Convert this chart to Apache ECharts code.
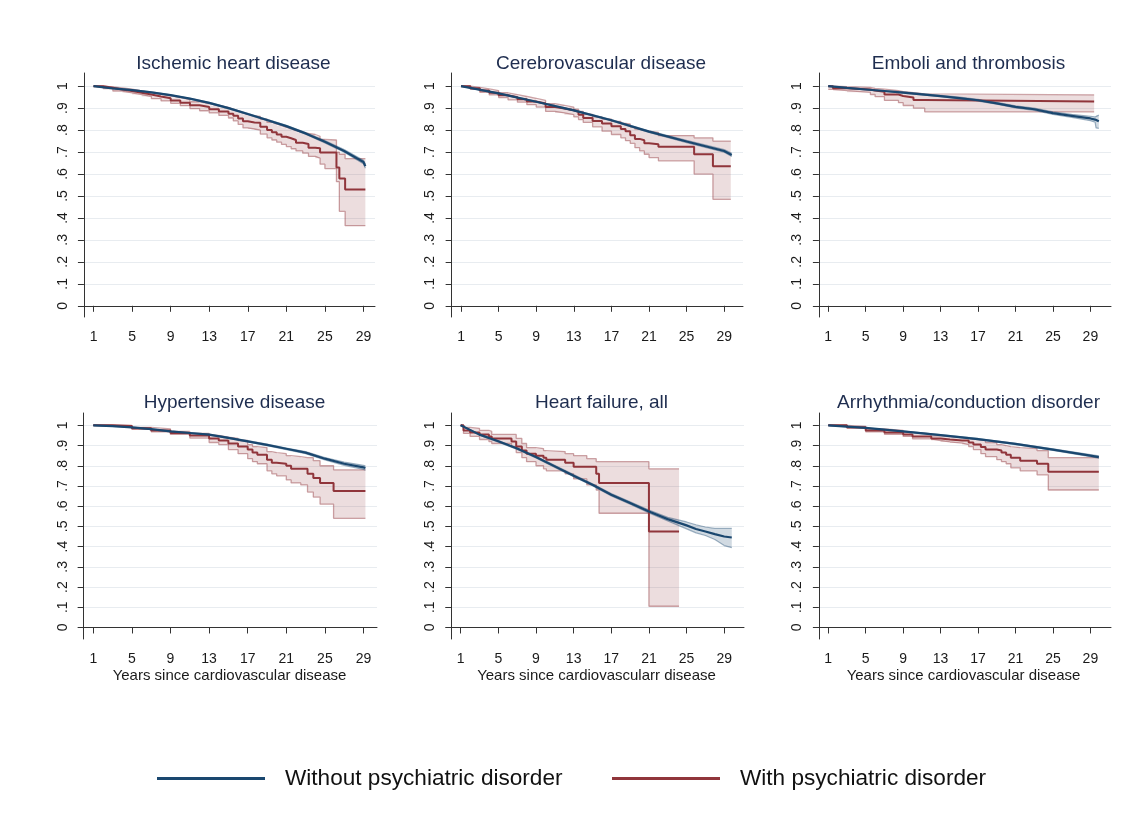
<!DOCTYPE html>
<html>
<head>
<meta charset="utf-8">
<script src="https://cdn.jsdelivr.net/npm/echarts@6/dist/echarts.min.js"></script>
<style>
html,body{margin:0;padding:0;background:#fff;}
#c{width:1135px;height:833px;}
</style>
</head>
<body>
<div id="c"></div>
<script>
// ---------- tick labels ----------
const xTicks = [1, 5, 9, 13, 17, 21, 25, 29];
const yTicks = [0, 0.1, 0.2, 0.3, 0.4, 0.5, 0.6, 0.7, 0.8, 0.9, 1];
const yTickLabels = ['0', '.1', '.2', '.3', '.4', '.5', '.6', '.7', '.8', '.9', '1'];
const titles = ['Ischemic heart disease', 'Cerebrovascular disease', 'Emboli and thrombosis',
  'Hypertensive disease', 'Heart failure, all', 'Arrhythmia/conduction disorder'];
const xTitles = ['', '', '', 'Years since cardiovascular disease', 'Years since cardiovascularr disease', 'Years since cardiovascular disease'];
const seriesNames = ['Without psychiatric disorder', 'With psychiatric disorder'];

// ---------- Panel 1: Ischemic heart disease ----------
const ihdRedX  = [1,2,3,4,5,6,7,8,9,10,11,12,13,14,15,15.5,16,16.5,17,17.7,18.3,19,19.5,20,20.5,21,21.5,22,22.7,23.3,24,24.5,25,26.2,26.5,27.1,29.2];
const ihdRed   = [1,.993,.985,.978,.97,.962,.953,.945,.935,.925,.913,.905,.895,.885,.875,.865,.853,.84,.835,.833,.815,.80,.79,.78,.77,.763,.755,.742,.737,.72,.717,.698,.698,.63,.58,.53,.53];
const ihdRedHi = [1,.997,.992,.986,.978,.971,.963,.956,.948,.939,.929,.921,.912,.903,.895,.888,.88,.872,.865,.862,.85,.835,.828,.82,.812,.805,.798,.79,.785,.78,.772,.758,.755,.70,.69,.67,.67];
const ihdRedLo = [1,.989,.978,.970,.962,.953,.943,.933,.922,.911,.898,.888,.878,.867,.855,.842,.826,.81,.805,.80,.782,.765,.755,.745,.735,.725,.715,.705,.695,.68,.672,.645,.625,.565,.43,.365,.365];
const ihdBlueX  = [1,3,5,7,9,11,13,15,17,19,21,23,25,27,29,29.2];
const ihdBlue   = [1,.99,.982,.972,.959,.943,.924,.90,.873,.846,.818,.785,.747,.705,.655,.636];
const ihdBlueHi = [1,.991,.984,.974,.961,.945,.926,.903,.876,.849,.822,.789,.752,.711,.663,.646];
const ihdBlueLo = [1,.989,.980,.970,.957,.941,.922,.897,.870,.843,.814,.781,.742,.699,.647,.626];

// ---------- Panel 2: Cerebrovascular disease ----------
const cvdRedX  = [1,2,3,4,5,6,7,8,9,10,11,12,13,13.5,14,15,16,17,18,18.5,19,19.5,20,20.5,21,22,25.8,27.8,29.7];
const cvdRed   = [1,.99,.98,.97,.959,.95,.94,.93,.921,.905,.898,.89,.883,.87,.855,.842,.83,.818,.805,.795,.777,.76,.754,.74,.736,.724,.69,.635,.635];
const cvdRedHi = [1,.995,.988,.98,.97,.962,.953,.944,.935,.92,.913,.905,.895,.885,.872,.86,.85,.84,.83,.828,.815,.805,.80,.795,.79,.775,.765,.75,.75];
const cvdRedLo = [1,.985,.972,.96,.948,.938,.927,.916,.905,.885,.878,.87,.86,.848,.835,.815,.795,.78,.765,.752,.74,.72,.705,.69,.675,.66,.60,.485,.485];
const cvdBlueX  = [1,5,9,13,17,21,25,29,29.8];
const cvdBlue   = [1,.967,.929,.89,.845,.793,.748,.705,.687];
const cvdBlueHi = [1,.969,.931,.892,.848,.797,.753,.711,.694];
const cvdBlueLo = [1,.965,.927,.888,.842,.789,.743,.699,.680];

// ---------- Panel 3: Emboli and thrombosis ----------
const embRedX  = [1,1.5,3,5.5,6,7,8.5,9,10.1,11.3,29.4];
const embRed   = [1,.99,.985,.98,.975,.962,.955,.948,.937,.93,.93];
const embRedHi = [1,.998,.995,.99,.987,.98,.975,.97,.965,.96,.96];
const embRedLo = [.985,.98,.972,.962,.952,.935,.925,.912,.9,.883,.883];
const embBlueX  = [1,3,5,7,9,11,13,15,17,19,21,23,25,27,29,29.5,29.6,29.9];
const embBlue   = [1,.992,.985,.978,.971,.963,.955,.946,.936,.922,.906,.895,.877,.865,.853,.848,.84,.84];
const embBlueHi = [1,.993,.987,.980,.974,.966,.958,.950,.940,.926,.911,.900,.883,.872,.863,.860,.866,.868];
const embBlueLo = [1,.991,.983,.976,.968,.960,.952,.942,.932,.918,.901,.890,.871,.858,.843,.836,.810,.808];

// ---------- Panel 4: Hypertensive disease ----------
const hypRedX  = [1,3,5,7,9,11,13,14,15,16,17,17.5,18,19,19.5,20,21,21.5,22.5,23.2,23.8,24.5,25.9,29.2];
const hypRed   = [1,.997,.985,.975,.962,.95,.935,.925,.91,.895,.88,.865,.855,.83,.815,.81,.80,.785,.785,.76,.74,.715,.675,.675];
const hypRedHi = [1,1,.99,.982,.97,.96,.95,.942,.935,.925,.905,.895,.89,.87,.865,.86,.85,.845,.84,.84,.825,.80,.78,.78];
const hypRedLo = [1,.993,.98,.968,.955,.937,.915,.905,.88,.86,.835,.82,.81,.775,.76,.75,.73,.715,.705,.67,.645,.61,.54,.54];
const hypBlueX  = [1,3,5,7,9,11,13,15,17,19,21,23,25,27,29,29.2];
const hypBlue   = [1,.996,.99,.981,.97,.962,.954,.938,.921,.903,.884,.865,.835,.81,.792,.789];
const hypBlueHi = [1,.997,.991,.983,.972,.964,.957,.941,.924,.907,.888,.870,.841,.818,.802,.800];
const hypBlueLo = [1,.995,.989,.979,.968,.960,.951,.935,.918,.899,.880,.860,.829,.802,.782,.778];

// ---------- Panel 5: Heart failure, all ----------
const hfRedX  = [1,1.3,2,3,4,4.3,6.4,6.9,7.5,8,9,9.8,10.1,12.1,13,14.4,15.4,15.7,21,24.2];
const hfRed   = [1,.975,.965,.955,.945,.935,.92,.895,.875,.86,.85,.84,.83,.815,.795,.795,.76,.715,.475,.475];
const hfRedHi = [1,.99,.985,.975,.97,.955,.955,.935,.91,.89,.885,.875,.87,.86,.85,.835,.82,.82,.785,.785];
const hfRedLo = [1,.96,.945,.93,.92,.91,.895,.865,.84,.82,.80,.785,.775,.76,.735,.705,.68,.565,.105,.105];
const hfBlueX  = [1,3,5,7,9,11,13,15,17,19,21,23,25,26,27,28,29,29.8];
const hfBlue   = [1,.954,.921,.885,.843,.797,.751,.706,.657,.616,.574,.536,.505,.487,.475,.462,.45,.445];
const hfBlueHi = [1,.957,.925,.889,.847,.802,.756,.711,.663,.622,.581,.545,.522,.508,.497,.49,.49,.49];
const hfBlueLo = [1,.951,.917,.881,.839,.792,.746,.701,.651,.61,.567,.527,.488,.468,.455,.435,.405,.395];

// ---------- Panel 6: Arrhythmia/conduction disorder ----------
const arrRedX  = [1,3,5,7,9,10,12,13,14,15.3,16,16.5,17.3,17.8,19,19.5,20,20.5,21.5,23.3,24.5,29.9];
const arrRed   = [1,.99,.975,.965,.955,.945,.935,.93,.925,.925,.915,.905,.893,.88,.875,.865,.855,.84,.825,.81,.77,.77];
const arrRedHi = [1,.995,.982,.975,.965,.958,.948,.944,.94,.935,.932,.928,.925,.915,.905,.9,.895,.89,.885,.875,.84,.84];
const arrRedLo = [1,.985,.968,.956,.945,.933,.925,.918,.912,.905,.895,.88,.86,.845,.83,.82,.81,.79,.775,.755,.68,.68];
const arrBlueX  = [1,5,9,13,17,21,25,29,29.9];
const arrBlue   = [1,.987,.97,.952,.932,.908,.88,.85,.843];
const arrBlueHi = [1,.988,.972,.954,.935,.911,.884,.855,.849];
const arrBlueLo = [1,.986,.968,.950,.929,.905,.876,.845,.837];

const panels = [
  {rx: ihdRedX, r: ihdRed, rh: ihdRedHi, rl: ihdRedLo, bx: ihdBlueX, b: ihdBlue, bh: ihdBlueHi, bl: ihdBlueLo},
  {rx: cvdRedX, r: cvdRed, rh: cvdRedHi, rl: cvdRedLo, bx: cvdBlueX, b: cvdBlue, bh: cvdBlueHi, bl: cvdBlueLo},
  {rx: embRedX, r: embRed, rh: embRedHi, rl: embRedLo, bx: embBlueX, b: embBlue, bh: embBlueHi, bl: embBlueLo},
  {rx: hypRedX, r: hypRed, rh: hypRedHi, rl: hypRedLo, bx: hypBlueX, b: hypBlue, bh: hypBlueHi, bl: hypBlueLo},
  {rx: hfRedX, r: hfRed, rh: hfRedHi, rl: hfRedLo, bx: hfBlueX, b: hfBlue, bh: hfBlueHi, bl: hfBlueLo},
  {rx: arrRedX, r: arrRed, rh: arrRedHi, rl: arrRedLo, bx: arrBlueX, b: arrBlue, bh: arrBlueHi, bl: arrBlueLo}
];

// ---------- layout ----------
const gridBoxes = [
  {left: 82, top: 73, width: 293, height: 244, xmin: -0.2, xmax: 30.2},
  {left: 449, top: 73, width: 294, height: 244, xmin: -0.28, xmax: 31.0},
  {left: 816, top: 73, width: 295, height: 244, xmin: -0.31, xmax: 31.2},
  {left: 82, top: 413, width: 295, height: 226, xmin: -0.17, xmax: 30.4},
  {left: 449, top: 413, width: 295, height: 226, xmin: -0.24, xmax: 31.1},
  {left: 816, top: 413, width: 295, height: 226, xmin: -0.31, xmax: 31.2}
];
const yRanges = [[-0.051, 1.06], [-0.057, 1.061]];

const BLUE = '#1a476f', RED = '#90353b';
const FONT = 'Liberation Sans, Arial, sans-serif';

const zip = (xs, ys) => xs.map((x, i) => [x, ys[i]]);

// band polygon drawn through the axis scales (api.coord)
function bandSeries(k, xs, lo, hi, step, fill, z) {
  return {
    type: 'custom', xAxisIndex: k, yAxisIndex: k, silent: true, clip: true, z: z,
    data: [[xs[0], lo[0]]],
    encode: {x: 0, y: 1},
    renderItem: function (params, api) {
      const pts = [];
      for (let i = 0; i < xs.length; i++) {
        pts.push(api.coord([xs[i], lo[i]]));
        if (step && i + 1 < xs.length) pts.push(api.coord([xs[i + 1], lo[i]]));
      }
      for (let i = xs.length - 1; i >= 0; i--) {
        if (step && i + 1 < xs.length) pts.push(api.coord([xs[i + 1], hi[i]]));
        pts.push(api.coord([xs[i], hi[i]]));
      }
      return {type: 'polygon', shape: {points: pts}, style: {fill: fill, stroke: null}};
    }
  };
}

const grid = [], xAxis = [], yAxis = [], title = [], series = [];
gridBoxes.forEach((g, k) => {
  grid.push({left: g.left, top: g.top, width: g.width, height: g.height, containLabel: false});
  const yr = yRanges[k < 3 ? 0 : 1];
  xAxis.push({
    type: 'value', gridIndex: k, min: g.xmin, max: g.xmax,
    axisLine: {show: true, lineStyle: {color: '#333', width: 1}},
    axisTick: {show: true, length: 6, customValues: xTicks, lineStyle: {color: '#333'}},
    axisLabel: {customValues: xTicks, margin: 13, fontSize: 14, color: '#1a1a1a', fontFamily: FONT},
    splitLine: {show: false},
    name: xTitles[k], nameLocation: 'middle', nameGap: 29,
    nameTextStyle: {fontSize: 15, color: '#1a1a1a', fontFamily: FONT}
  });
  yAxis.push({
    type: 'value', gridIndex: k, min: yr[0], max: yr[1],
    axisLine: {show: true, lineStyle: {color: '#333', width: 1}},
    axisTick: {show: true, length: 6, customValues: yTicks, lineStyle: {color: '#333'}},
    axisLabel: {customValues: yTicks, rotate: 90, margin: 12, fontSize: 14, color: '#1a1a1a', fontFamily: FONT,
      formatter: v => { const i = yTicks.findIndex(t => Math.abs(t - v) < 1e-6); return i >= 0 ? yTickLabels[i] : ''; }},
    splitLine: {show: true, lineStyle: {color: '#e8ecf0', width: 1}}
  });
  title.push({
    text: titles[k], left: g.left + g.width / 2, top: k < 3 ? 49 : 388, textAlign: 'center',
    textStyle: {fontSize: 19, fontWeight: 'normal', color: '#1e2d4f', fontFamily: FONT}
  });
  const p = panels[k];
  const base = {type: 'line', xAxisIndex: k, yAxisIndex: k, symbol: 'none', silent: true, animation: false};
  // red CI band + edges
  series.push(bandSeries(k, p.rx, p.rl, p.rh, true, 'rgba(144,53,59,0.17)', 1));
  series.push(Object.assign({}, base, {name: 'rlo' + k, step: 'end', data: zip(p.rx, p.rl),
    lineStyle: {color: 'rgba(144,53,59,0.45)', width: 1.3}, z: 2}));
  series.push(Object.assign({}, base, {name: 'rhi' + k, step: 'end', data: zip(p.rx, p.rh),
    lineStyle: {color: 'rgba(144,53,59,0.45)', width: 1.3}, z: 2}));
  // blue CI band + edges
  series.push(bandSeries(k, p.bx, p.bl, p.bh, false, 'rgba(26,71,111,0.2)', 1));
  series.push(Object.assign({}, base, {name: 'blo' + k, data: zip(p.bx, p.bl),
    lineStyle: {color: 'rgba(26,71,111,0.4)', width: 1.2}, z: 2}));
  series.push(Object.assign({}, base, {name: 'bhi' + k, data: zip(p.bx, p.bh),
    lineStyle: {color: 'rgba(26,71,111,0.4)', width: 1.2}, z: 2}));
  // main curves
  series.push(Object.assign({}, base, {name: seriesNames[1], step: 'end', data: zip(p.rx, p.r),
    color: RED, itemStyle: {color: RED}, lineStyle: {color: RED, width: 2}, z: 3}));
  series.push(Object.assign({}, base, {name: seriesNames[0], data: zip(p.bx, p.b),
    color: BLUE, itemStyle: {color: BLUE}, lineStyle: {color: BLUE, width: 2.2}, z: 4}));
});

const legendCommon = {
  top: 762, orient: 'horizontal', icon: 'rect', itemWidth: 108, itemHeight: 3,
  textStyle: {fontSize: 22.6, color: '#111', fontFamily: FONT, padding: [0, 0, 0, 15]},
  selectedMode: false
};

const chart = echarts.init(document.getElementById('c'), null, {renderer: 'canvas'});
chart.setOption({
  backgroundColor: '#fff',
  animation: false,
  title: title,
  grid: grid,
  xAxis: xAxis,
  yAxis: yAxis,
  legend: [
    Object.assign({}, legendCommon, {left: 152, data: [seriesNames[0]]}),
    Object.assign({}, legendCommon, {left: 607, data: [seriesNames[1]]})
  ],
  series: series
});
</script>
</body>
</html>
